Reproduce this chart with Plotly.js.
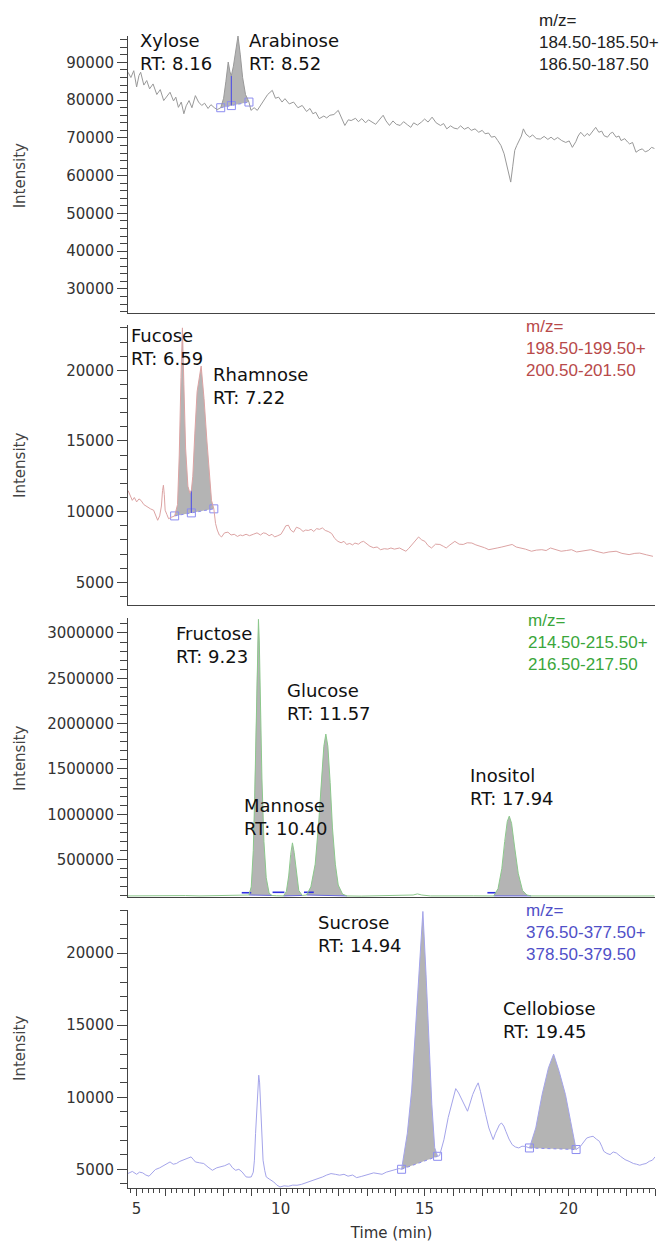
<!DOCTYPE html>
<html><head><meta charset="utf-8">
<script src="https://cdn.plot.ly/plotly-3.0.1.min.js"></script>
<style>body{margin:0;background:#fff}#chart{width:663px;height:1242px}</style>
</head><body><div id="chart"></div>
<script>
// ---------- Panel 1: m/z 184.50-185.50 + 186.50-187.50 ----------
const p1Time = [4.70,4.80,4.90,5.00,5.08,5.14,5.25,5.35,5.45,5.57,5.70,5.82,5.94,6.05,6.16,6.28,6.36,6.45,6.55,6.64,6.72,6.82,6.92,7.04,7.15,7.26,7.36,7.48,7.58,7.70,7.80,7.92,8.02,8.10,8.18,8.24,8.29,8.36,8.44,8.52,8.60,8.68,8.78,8.90,8.97,9.08,9.19,9.30,9.42,9.55,9.71,9.82,9.93,10.05,10.15,10.30,10.45,10.60,10.75,10.90,11.02,11.12,11.22,11.34,11.50,11.60,11.71,11.85,12.00,12.10,12.23,12.35,12.45,12.60,12.70,12.82,12.95,13.05,13.19,13.30,13.45,13.56,13.66,13.78,13.90,14.02,14.15,14.27,14.40,14.52,14.62,14.75,14.89,15.00,15.12,15.26,15.40,15.55,15.66,15.77,15.90,16.02,16.14,16.25,16.38,16.51,16.62,16.75,16.88,17.00,17.10,17.22,17.32,17.44,17.54,17.65,17.76,17.88,17.99,18.06,18.13,18.20,18.28,18.36,18.43,18.52,18.65,18.75,18.88,19.02,19.15,19.28,19.39,19.50,19.62,19.76,19.90,20.02,20.13,20.25,20.33,20.42,20.55,20.65,20.72,20.85,20.94,21.05,21.15,21.23,21.35,21.45,21.53,21.65,21.75,21.82,21.95,22.05,22.12,22.22,22.34,22.45,22.56,22.66,22.78,22.88,22.98];
const p1Int = [87400,86000,87800,83500,86500,87400,84000,85200,83000,84300,81500,82800,79900,81000,82100,79800,80800,78100,79500,76400,78500,79900,78000,81200,79500,78600,79200,77800,78800,78000,77500,78000,80500,85000,90100,87500,86500,89000,93000,97000,92000,86000,81500,79500,77300,78000,77300,78500,79900,81500,82600,80500,80800,79500,80400,79000,79500,78000,78600,77000,77800,76400,76800,75100,75800,75300,76000,76200,77300,75500,73300,74800,74600,75200,74300,75100,74000,74800,74200,73600,75000,76000,74500,73300,74500,73600,73300,74300,73500,72800,74000,73400,74200,75000,74200,75500,74000,73300,73800,72400,73200,72600,72400,73200,72300,72800,72000,72400,71500,72000,71100,71300,70200,70400,69300,68000,65800,62000,58300,62500,66700,68000,69300,70500,72400,71000,70200,70800,69800,69700,70400,69600,70200,69500,70100,69300,68800,69200,67500,69000,70500,71500,70400,71200,70600,71800,72800,71500,71800,70600,70200,71200,71500,70200,70500,69300,69800,68900,68400,68800,66200,66800,67100,66300,66700,67500,67200];
const p1PeakStart = [7.92];
const p1PeakEnd = [8.90];
const p1BaseStartVal = [78000];
const p1BaseEndVal = [79500];
const p1SplitTime = [8.29];
const p1Names = ['Xylose', 'Arabinose'];
const p1RT = ['8.16', '8.52'];
const p1Mz = ['m/z=', '184.50-185.50+', '186.50-187.50'];

// ---------- Panel 2: m/z 198.50-199.50 + 200.50-201.50 ----------
const p2Time = [4.70,4.78,4.85,4.92,5.00,5.08,5.15,5.25,5.37,5.48,5.59,5.66,5.73,5.80,5.86,5.90,5.93,5.96,5.99,6.05,6.11,6.20,6.32,6.42,6.48,6.54,6.59,6.64,6.70,6.78,6.85,6.90,6.95,7.02,7.10,7.24,7.34,7.44,7.52,7.60,7.68,7.74,7.80,7.87,7.95,8.05,8.17,8.28,8.39,8.50,8.60,8.68,8.80,8.92,9.05,9.18,9.30,9.40,9.49,9.60,9.70,9.79,9.90,10.01,10.10,10.18,10.27,10.35,10.45,10.55,10.67,10.78,10.87,10.96,11.06,11.15,11.25,11.35,11.45,11.55,11.65,11.77,11.88,11.99,12.10,12.20,12.29,12.40,12.50,12.58,12.70,12.80,12.88,13.00,13.10,13.22,13.35,13.47,13.60,13.72,13.83,13.95,14.05,14.13,14.25,14.35,14.45,14.57,14.68,14.79,14.90,15.01,15.12,15.24,15.38,15.53,15.65,15.75,15.88,16.05,16.20,16.34,16.48,16.64,16.78,16.93,17.08,17.23,17.38,17.52,17.68,17.82,17.95,18.04,18.18,18.34,18.50,18.71,18.88,19.07,19.22,19.37,19.55,19.74,19.92,20.10,20.28,20.47,20.62,20.77,20.95,21.10,21.21,21.40,21.65,21.85,22.10,22.30,22.47,22.70,22.93];
const p2Int = [11500,11100,10800,11000,10690,10900,10800,10500,10330,10200,10100,9700,9390,9700,10400,11500,11870,11200,10100,9800,9500,9600,9700,10500,14000,19500,23000,19000,14500,11800,11300,11500,12500,15500,18500,20300,18000,15000,12500,10800,10200,9160,8700,8350,8210,8500,8550,8350,8400,8250,8350,8300,8400,8300,8400,8500,8350,8500,8460,8300,8400,8210,8300,8400,8700,9000,9040,8700,8550,8900,8800,8600,8700,8670,8750,8600,8800,8750,8850,8670,8600,8460,8100,7900,7800,7900,7680,7750,7650,7780,7700,7850,7900,7700,7560,7450,7500,7310,7380,7350,7430,7350,7400,7430,7300,7200,7400,7680,8000,8210,8000,7900,7600,7430,7700,7680,7550,7430,7650,7900,7700,7680,7800,7780,7650,7560,7450,7310,7400,7430,7500,7560,7650,7680,7500,7430,7350,7200,7280,7310,7250,7430,7300,7200,7250,7310,7150,7200,7280,7310,7200,7150,7070,7150,7200,7050,6960,7050,7070,6950,6840];
const p2PeakStart = [6.32];
const p2PeakEnd = [7.68];
const p2BaseStartVal = [9700];
const p2BaseEndVal = [10200];
const p2SplitTime = [6.90];
const p2Names = ['Fucose', 'Rhamnose'];
const p2RT = ['6.59', '7.22'];
const p2Mz = ['m/z=', '198.50-199.50+', '200.50-201.50'];

// ---------- Panel 3: m/z 214.50-215.50 + 216.50-217.50 ----------
const p3Time = [4.70,5.20,5.70,6.20,6.70,7.20,7.70,8.20,8.60,8.90,8.98,9.05,9.10,9.15,9.20,9.23,9.26,9.30,9.35,9.42,9.50,9.60,9.70,9.85,10.00,10.10,10.20,10.28,10.35,10.41,10.47,10.55,10.63,10.75,10.90,11.05,11.20,11.32,11.42,11.50,11.57,11.64,11.72,11.80,11.90,12.00,12.15,12.30,12.80,13.30,13.80,14.30,14.60,14.75,14.90,15.20,15.70,16.20,16.70,17.20,17.40,17.55,17.68,17.78,17.87,17.94,18.02,18.12,18.25,18.40,18.55,18.70,19.20,19.70,20.20,20.70,21.20,21.70,22.20,22.98];
const p3Int = [100000,102000,98000,101000,104000,100000,103000,101000,102000,110000,200000,600000,1200000,2100000,2900000,3150000,2900000,2200000,1400000,700000,300000,130000,105000,102000,100000,100000,150000,320000,560000,685000,580000,330000,160000,105000,110000,200000,450000,900000,1400000,1750000,1885000,1750000,1350000,850000,450000,220000,120000,100000,98000,102000,99000,103000,110000,122000,110000,100000,102000,99000,101000,100000,100000,180000,400000,700000,920000,980000,900000,650000,350000,160000,110000,100000,101000,99000,102000,100000,98000,101000,99000,100000];
const p3PeakStart = [8.90, 10.10, 10.90, 17.40];
const p3PeakEnd = [9.70, 10.75, 12.30, 18.70];
const p3BaseStartVal = [110000, 100000, 110000, 100000];
const p3BaseEndVal = [105000, 105000, 100000, 100000];
const p3MarkStart = [8.65, 9.72, 10.81, 17.18];
const p3MarkEnd = [8.98, 10.13, 11.15, 17.48];
const p3MarkVal = [135000, 140000, 140000, 135000];
const p3Names = ['Fructose', 'Glucose', 'Mannose', 'Inositol'];
const p3RT = ['9.23', '11.57', '10.40', '17.94'];
const p3Mz = ['m/z=', '214.50-215.50+', '216.50-217.50'];

// ---------- Panel 4: m/z 376.50-377.50 + 378.50-379.50 ----------
const p4Time = [4.69,4.85,5.00,5.10,5.21,5.32,5.43,5.55,5.65,5.80,5.94,6.05,6.16,6.27,6.38,6.50,6.60,6.75,6.89,6.96,7.04,7.18,7.33,7.48,7.63,7.78,7.92,8.06,8.22,8.33,8.44,8.55,8.66,8.80,8.90,8.98,9.05,9.09,9.13,9.17,9.21,9.24,9.27,9.31,9.35,9.39,9.45,9.50,9.62,9.76,9.87,9.98,10.12,10.27,10.42,10.57,10.72,10.87,11.02,11.16,11.30,11.46,11.60,11.75,11.90,12.05,12.20,12.34,12.50,12.64,12.80,12.93,13.08,13.23,13.38,13.52,13.67,13.82,13.97,14.11,14.20,14.40,14.55,14.70,14.82,14.94,15.05,15.15,15.25,15.35,15.45,15.52,15.67,15.82,15.97,16.08,16.18,16.27,16.38,16.49,16.58,16.67,16.78,16.86,16.94,17.01,17.12,17.23,17.31,17.38,17.46,17.53,17.60,17.67,17.75,17.82,17.93,18.04,18.15,18.27,18.38,18.49,18.64,18.86,19.08,19.30,19.48,19.67,19.89,20.07,20.26,20.41,20.52,20.63,20.75,20.85,20.96,21.07,21.15,21.22,21.33,21.44,21.55,21.66,21.80,21.96,22.10,22.25,22.36,22.47,22.58,22.69,22.80,22.91,23.00];
const p4Int = [4700,4850,4650,4800,4750,4600,4520,4800,4980,5100,5280,5400,5510,5350,5400,5550,5630,5700,5860,5700,5510,5450,5400,5150,4930,5100,5170,5250,5400,5100,4930,5000,4820,4470,4450,4470,4800,5630,7500,9330,11000,11530,11000,9330,7500,5630,4900,4470,4300,4120,3900,3770,3850,3820,3900,3890,3950,4050,4150,4280,4350,4470,4600,4700,4650,4590,4650,4520,4600,4420,4500,4590,4650,4750,4700,4650,4800,4890,4950,5050,5000,7500,10500,15000,19000,22900,18500,13500,9500,6500,5900,5950,7050,8600,9750,10600,10300,9960,9500,9030,9600,10190,10700,11000,10400,9720,8800,7870,7400,7060,7500,7870,8100,8210,8000,7640,7100,6710,6550,6480,6600,6590,6480,7870,10190,12040,12990,11800,10190,8330,6370,6590,6900,7170,7250,7290,7100,6940,6600,6250,6100,6020,6200,6130,5900,5670,5550,5400,5350,5280,5350,5400,5550,5630,5860];
const p4PeakStart = [14.20, 18.64];
const p4PeakEnd = [15.45, 20.26];
const p4BaseStartVal = [5000, 6480];
const p4BaseEndVal = [5900, 6370];
const p4Names = ['Sucrose', 'Cellobiose'];
const p4RT = ['14.94', '19.45'];
const p4Mz = ['m/z=', '376.50-377.50+', '378.50-379.50'];

// x-axis tick labels (bottom panel)
const xTickVals = [5,6,7,8,9,10,11,12,13,14,15,16,17,18,19,20,21,22,23];
const xTickText = ['5','','','','','10','','','','','15','','','','','20','','',''];

// ---------- build ----------
const FILL = '#b4b4b4';
const BOX = '#8c8cf0';
const FONT = 'DejaVu Sans, Verdana, sans-serif';
const MZFONT = 'Liberation Sans, Arial, sans-serif';

function lerp(x0, y0, x1, y1, x) { return y0 + (y1 - y0) * (x - x0) / (x1 - x0); }

function peakFills(times, ints, starts, ends, bs, be, xa, ya) {
  const out = [];
  for (let k = 0; k < starts.length; k++) {
    const xs = [], ys = [];
    for (let i = 0; i < times.length; i++) {
      if (times[i] >= starts[k] - 1e-9 && times[i] <= ends[k] + 1e-9) { xs.push(times[i]); ys.push(ints[i]); }
    }
    xs.push(ends[k], starts[k]); ys.push(be[k], bs[k]);
    out.push({type:'scatter', mode:'lines', x:xs, y:ys, fill:'toself', fillcolor:FILL,
      line:{width:0, color:FILL}, hoverinfo:'skip', xaxis:xa, yaxis:ya});
  }
  return out;
}
function baselines(starts, ends, bs, be, xa, ya, splits) {
  const out = [];
  const bx = [], by = [];
  for (let k = 0; k < starts.length; k++) {
    bx.push(starts[k], ends[k], null); by.push(bs[k], be[k], null);
  }
  out.push({type:'scatter', mode:'lines', x:bx, y:by, line:{color:BOX, width:1, dash:'dot'}, hoverinfo:'skip', xaxis:xa, yaxis:ya});
  const mx = [], my = [];
  for (let k = 0; k < starts.length; k++) { mx.push(starts[k], ends[k]); my.push(bs[k], be[k]); }
  if (splits) {
    for (const s of splits.times) {
      const b = lerp(starts[0], bs[0], ends[0], be[0], s);
      mx.push(s); my.push(b);
    }
  }
  out.push({type:'scatter', mode:'markers', x:mx, y:my, marker:{symbol:'square-open', size:8, color:BOX, line:{width:1}}, hoverinfo:'skip', xaxis:xa, yaxis:ya});
  return out;
}
function splitLines(times, ints, split, starts, ends, bs, be, xa, ya) {
  const sx = [], sy = [];
  for (const s of split) {
    const idx = times.indexOf(s);
    const top = ints[idx];
    const b = lerp(starts[0], bs[0], ends[0], be[0], s);
    sx.push(s, s, null); sy.push(b, top, null);
  }
  return {type:'scatter', mode:'lines', x:sx, y:sy, line:{color:'#5a5ae0', width:1.2}, hoverinfo:'skip', xaxis:xa, yaxis:ya};
}

const traces = [];
// panel 1
traces.push(...peakFills(p1Time, p1Int, p1PeakStart, p1PeakEnd, p1BaseStartVal, p1BaseEndVal, 'x', 'y'));
traces.push(...baselines(p1PeakStart, p1PeakEnd, p1BaseStartVal, p1BaseEndVal, 'x', 'y', {times:p1SplitTime}));
traces.push(splitLines(p1Time, p1Int, p1SplitTime, p1PeakStart, p1PeakEnd, p1BaseStartVal, p1BaseEndVal, 'x', 'y'));
traces.push({type:'scatter', mode:'lines', x:p1Time, y:p1Int, line:{color:'#999999', width:1}, xaxis:'x', yaxis:'y', hoverinfo:'x+y'});
// panel 2
traces.push(...peakFills(p2Time, p2Int, p2PeakStart, p2PeakEnd, p2BaseStartVal, p2BaseEndVal, 'x2', 'y2'));
traces.push(...baselines(p2PeakStart, p2PeakEnd, p2BaseStartVal, p2BaseEndVal, 'x2', 'y2', {times:p2SplitTime}));
traces.push(splitLines(p2Time, p2Int, p2SplitTime, p2PeakStart, p2PeakEnd, p2BaseStartVal, p2BaseEndVal, 'x2', 'y2'));
traces.push({type:'scatter', mode:'lines', x:p2Time, y:p2Int, line:{color:'#dca3a3', width:1}, xaxis:'x2', yaxis:'y2', hoverinfo:'x+y'});
// panel 3
traces.push(...peakFills(p3Time, p3Int, p3PeakStart, p3PeakEnd, p3BaseStartVal, p3BaseEndVal, 'x3', 'y3'));
(function(){
  const bx = [], by = [];
  for (let k = 0; k < p3PeakStart.length; k++) { bx.push(p3PeakStart[k], p3PeakEnd[k], null); by.push(p3BaseStartVal[k], p3BaseEndVal[k], null); }
  traces.push({type:'scatter', mode:'lines', x:bx, y:by, line:{color:'#6a6ae0', width:1}, hoverinfo:'skip', xaxis:'x3', yaxis:'y3'});
  const mx = [], my = [];
  for (let k = 0; k < p3MarkStart.length; k++) { mx.push(p3MarkStart[k], p3MarkEnd[k], null); my.push(p3MarkVal[k], p3MarkVal[k], null); }
  traces.push({type:'scatter', mode:'lines', x:mx, y:my, line:{color:'#3030e0', width:1.6}, hoverinfo:'skip', xaxis:'x3', yaxis:'y3'});
})();
traces.push({type:'scatter', mode:'lines', x:p3Time, y:p3Int, line:{color:'#8cc88c', width:1}, xaxis:'x3', yaxis:'y3', hoverinfo:'x+y'});
// panel 4
traces.push(...peakFills(p4Time, p4Int, p4PeakStart, p4PeakEnd, p4BaseStartVal, p4BaseEndVal, 'x4', 'y4'));
traces.push(...baselines(p4PeakStart, p4PeakEnd, p4BaseStartVal, p4BaseEndVal, 'x4', 'y4', null));
traces.push({type:'scatter', mode:'lines', x:p4Time, y:p4Int, line:{color:'#a4a4ea', width:1}, xaxis:'x4', yaxis:'y4', hoverinfo:'x+y'});

const XR = [4.7, 23.0];
const AX = '#444';
function xax(extra) {
  return Object.assign({range:XR, showline:true, linecolor:AX, linewidth:1, ticks:'', showticklabels:false,
    showgrid:false, zeroline:false, mirror:false}, extra);
}
function yax(domain, range, dtick, minor, extra) {
  return Object.assign({domain:domain, range:range, dtick:dtick, tick0:0, tickformat:'d',
    ticks:'outside', ticklen:10, tickcolor:AX, tickwidth:1,
    minor:{dtick:minor, tick0:0, ticks:'outside', ticklen:7, tickcolor:AX, tickwidth:1, showgrid:false},
    showline:true, linecolor:AX, linewidth:1, showgrid:false, zeroline:false,
    tickfont:{family:FONT, size:15, color:'#333'}}, extra);
}

function lab(name, rt) { return name + '<br>RT: ' + rt; }
function ann(text, x, y, xref, yref, opts) {
  return Object.assign({text:text, x:x, y:y, xref:xref, yref:yref, xanchor:'left', yanchor:'middle', align:'left',
    showarrow:false, font:{family:FONT, size:18, color:'#111'}}, opts || {});
}
function mz(lines, x, y, xref, yref, color) {
  return ann(lines.join('<br>'), x, y, xref, yref, {font:{family:MZFONT, size:17, color:color}});
}
function ytitle(y) {
  return {text:'Intensity', x:-0.205, y:y, xref:'paper', yref:'paper', xanchor:'center', yanchor:'middle',
    textangle:-90, showarrow:false, font:{family:FONT, size:15, color:'#444'}};
}

const annotations = [
  ann(lab(p1Names[0], p1RT[0]), 5.05, 92800, 'x', 'y'),
  ann(lab(p1Names[1], p1RT[1]), 8.83, 92800, 'x', 'y'),
  mz(p1Mz, 18.9, 95300, 'x', 'y', '#222'),
  ann(lab(p2Names[0], p2RT[0]), 4.74, 21630, 'x2', 'y2'),
  ann(lab(p2Names[1], p2RT[1]), 7.58, 18870, 'x2', 'y2'),
  mz(p2Mz, 18.45, 21560, 'x2', 'y2', '#b84a4a'),
  ann(lab(p3Names[0], p3RT[0]), 6.30, 2867000, 'x3', 'y3'),
  ann(lab(p3Names[1], p3RT[1]), 10.15, 2238000, 'x3', 'y3'),
  ann(lab(p3Names[2], p3RT[2]), 8.66, 969000, 'x3', 'y3'),
  ann(lab(p3Names[3], p3RT[3]), 16.51, 1306000, 'x3', 'y3'),
  mz(p3Mz, 18.52, 2900000, 'x3', 'y3', '#3aa63a'),
  ann(lab(p4Names[0], p4RT[0]), 11.23, 21350, 'x4', 'y4'),
  ann(lab(p4Names[1], p4RT[1]), 17.65, 15350, 'x4', 'y4'),
  mz(p4Mz, 18.45, 21460, 'x4', 'y4', '#5050c8'),
  ytitle(0.879), ytitle(0.6276), ytitle(0.3733), ytitle(0.1215)
];

const layout = {
  width:663, height:1242,
  margin:{l:128, r:8, t:36, b:54},
  paper_bgcolor:'#fff', plot_bgcolor:'#fff',
  showlegend:false,
  xaxis: xax({anchor:'y'}),
  xaxis2: xax({anchor:'y2'}),
  xaxis3: xax({anchor:'y3'}),
  xaxis4: xax({anchor:'y4', ticks:'outside', ticklen:7, tickcolor:AX, showticklabels:true,
    tickmode:'array', tickvals:xTickVals, ticktext:xTickText,
    minor:{tickmode:'linear', tick0:0, dtick:0.2, ticks:'outside', ticklen:4, tickcolor:AX, showgrid:false},
    tickfont:{family:FONT, size:15, color:'#333'},
    title:{text:'Time (min)', font:{family:FONT, size:15, color:'#333'}, standoff:10}}),
  yaxis: yax([0.7595, 1.0], [23600, 97000], 10000, 2000, {anchor:'x'}),
  yaxis2: yax([0.5061, 0.7491], [3400, 23200], 5000, 1000, {anchor:'x2'}),
  yaxis3: yax([0.2526, 0.4948], [88000, 3165000], 500000, 100000, {anchor:'x3'}),
  yaxis4: yax([0, 0.2413], [3700, 23000], 5000, 1000, {anchor:'x4'}),
  annotations: annotations
};

Plotly.newPlot('chart', traces, layout, {displayModeBar:false, staticPlot:true});
</script>
</body></html>
